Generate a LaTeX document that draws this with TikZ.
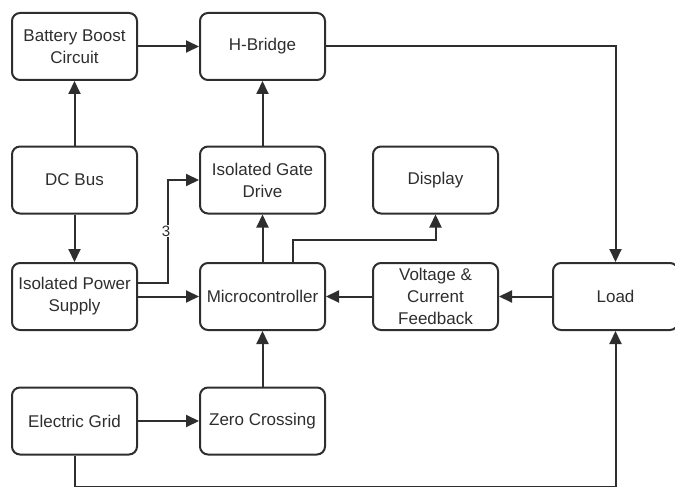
\documentclass[tikz,border=0pt]{standalone}
\usepackage{fontspec}
\setmainfont{Liberation Sans}
\usetikzlibrary{arrows.meta}
\definecolor{ln}{HTML}{2E2E2E}
\tikzset{
  blk/.style={draw=ln, line width=2pt, rounded corners=8pt, minimum width=125pt, minimum height=67pt, inner sep=0pt, align=center, text=ln, font=\fontsize{17}{22}\selectfont},
  con/.style={draw=ln, line width=2pt, -{Triangle[length=13pt,width=12pt]}}
}
\begin{document}
\begin{tikzpicture}[x=1pt,y=-1pt]
\useasboundingbox (0,0) rectangle (675,487);
\node[blk] (bb) at (74.5,46.5) {Battery Boost\\Circuit};
\node[blk] (hb) at (262.5,46.5) {H-Bridge};
\node[blk] (dc) at (74.5,180) {DC Bus};
\node[blk] (igd) at (262.5,180) {Isolated Gate\\Drive};
\node[blk] (disp) at (435.5,180) {Display};
\node[blk] (ips) at (74.5,296.5) {Isolated Power\\Supply};
\node[blk] (mc) at (262.5,296.5) {Microcontroller};
\node[blk] (fb) at (435.5,296.5) {Voltage \&\\Current\\Feedback};
\node[blk] (load) at (615.5,296.5) {Load};
\node[blk] (eg) at (74.5,421) {Electric Grid};
\node[blk] (zc) at (262.5,421) {Zero Crossing};

\coordinate (g1) at (74.5,487.3);
\coordinate (g2) at (615.5,487.3);
\coordinate (d1) at (293,240);
\coordinate (d2) at (435.5,240);
\coordinate (p1) at (168,283);
\coordinate (p2) at (168,180);

\draw[con] (bb) -- (hb);
\draw[con] (dc) -- (bb);
\draw[con] (dc) -- (ips);
\draw[con] (igd) -- (hb);
\draw[con] (mc) -- (igd);
\draw[con] (zc) -- (mc);
\draw[con] (eg) -- (zc);
\draw[con] (fb) -- (mc);
\draw[con] (load) -- (fb);
\draw[con] (ips.east |- mc) -- (mc);
\draw[con] (hb.east) -| (load.north);
\draw[con] (eg.south) -- (g1) -- (g2) -- (load.south);
\draw[con] (mc.north -| d1) -- (d1) -- (d2) -- (disp.south);
\draw[con] (ips.east |- p1) -- (p1) -- (p2) -- (igd.west);
\node[fill=white, inner sep=1pt, text=ln, font=\fontsize{15}{18}\selectfont] (lbl) at (166,231) {3};
\end{tikzpicture}
\end{document}
